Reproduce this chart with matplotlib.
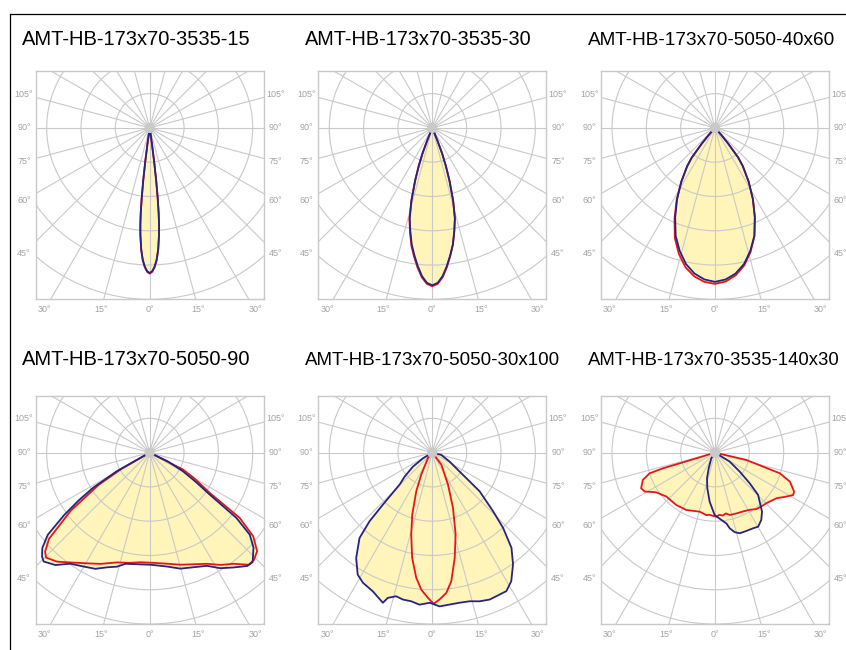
import numpy as np
import matplotlib
matplotlib.use("Agg")
import matplotlib.pyplot as plt
from matplotlib.lines import Line2D
from matplotlib.patches import Circle

plt.rcParams["font.family"] = ["Liberation Sans", "DejaVu Sans"]

TITLES = [
    "AMT-HB-173x70-3535-15",
    "AMT-HB-173x70-3535-30",
    "AMT-HB-173x70-5050-40x60",
    "AMT-HB-173x70-5050-90",
    "AMT-HB-173x70-5050-30x100",
    "AMT-HB-173x70-3535-140x30",
]
# rendered width of each title in the reference, pixels
TITLE_W = [230, 228, 248, 230, 255, 253]

# gamma angle from nadir in degrees (negative = left side), intensity in grid rings
P1_ANG = [-8.5, -8, -7.5, -7, -6.5, -6, -5.5, -5, -4, -3, -2, -1, 0,
          1, 2, 3, 4, 5, 5.5, 6, 6.5, 7, 7.5, 8, 8.5]
P1_BLUE = [0, 0.45, 1.0, 1.55, 2.05, 2.5, 2.85, 3.12, 3.55, 3.85, 4.05, 4.18, 4.23,
           4.18, 4.05, 3.85, 3.55, 3.12, 2.85, 2.5, 2.05, 1.55, 1.0, 0.45, 0]
P1_RED = [0, 0.45, 1.0, 1.55, 2.05, 2.5, 2.85, 3.12, 3.56, 3.87, 4.07, 4.2, 4.25,
          4.2, 4.07, 3.87, 3.56, 3.12, 2.85, 2.5, 2.05, 1.55, 1.0, 0.45, 0]

P2_ANG = [-23, -22, -21, -19.5, -18, -16, -14, -12, -10, -8, -6, -4, -2, 0,
          2, 4, 6, 8, 10, 12, 14, 16, 18, 19.5, 21, 22, 23]
P2_BLUE = [0, 0.4, 0.8, 1.2, 1.62, 2.2, 2.72, 3.08, 3.45, 3.75, 4.05, 4.33, 4.52, 4.59,
           4.52, 4.33, 4.05, 3.75, 3.45, 3.08, 2.72, 2.2, 1.62, 1.2, 0.8, 0.4, 0]
P2_RED = [0, 0.4, 0.8, 1.2, 1.63, 2.22, 2.75, 3.12, 3.5, 3.8, 4.1, 4.37, 4.55, 4.62,
          4.55, 4.36, 4.08, 3.77, 3.46, 3.08, 2.72, 2.2, 1.62, 1.2, 0.8, 0.4, 0]

P3_ANG = [-43, -42, -40, -38, -36, -32, -28, -24, -20, -16, -12, -8, -4, 0,
          4, 8, 12, 16, 20, 24, 28, 32, 36, 38, 40, 42, 43]
P3_BLUE = [0, 0.25, 0.6, 1.1, 1.38, 1.85, 2.35, 2.85, 3.35, 3.73, 4.06, 4.29, 4.43, 4.49,
           4.43, 4.29, 4.06, 3.73, 3.35, 2.85, 2.35, 1.85, 1.38, 1.1, 0.6, 0.25, 0]
P3_RED = [0, 0.25, 0.6, 1.1, 1.38, 1.86, 2.38, 2.9, 3.42, 3.82, 4.15, 4.37, 4.5, 4.55,
          4.49, 4.34, 4.1, 3.76, 3.36, 2.86, 2.35, 1.85, 1.38, 1.1, 0.6, 0.25, 0]

P4_BLUE_ANG = [-63, -60.5, -58.1, -56, -53.9, -51.1, -48.4, -46, -44.2, -40.0, -35.5,
               -30.1, -25.0, -20.4, -16.0, -12.3, -4.8, 0.4, 8.6, 14.8, 21.0, 26.8,
               31.4, 36.2, 40.7, 43.2, 47.5, 50.6, 53.0, 55.0, 57.5, 60.7, 64, 68]
P4_BLUE = [0, 1.1, 1.95, 2.5, 3.07, 3.81, 4.18, 4.36, 4.43, 4.28, 3.98,
           3.84, 3.74, 3.57, 3.46, 3.32, 3.27, 3.27, 3.36, 3.5, 3.58, 3.7,
           3.95, 4.15, 4.36, 4.38, 4.1, 3.77, 3.16, 2.13, 1.6, 1.11, 0.6, 0]
P4_RED_ANG = [-63, -60, -57.7, -53.6, -49.4, -46.5, -44.6, -40.3, -35.8, -29.5, -23.9,
              -16.5, -10.5, -4.9, 0.4, 8.9, 15.3, 21.5, 27.3, 32.2, 37.0, 41.4, 44.1,
              47.4, 51.0, 54.0, 56.1, 60, 63.0, 68]
P4_RED = [0, 0.95, 1.76, 2.86, 3.86, 4.2, 4.3, 4.17, 3.95, 3.71, 3.55,
          3.34, 3.27, 3.21, 3.21, 3.28, 3.39, 3.5, 3.65, 3.87, 4.06, 4.36, 4.36,
          4.25, 3.88, 3.24, 2.11, 1.5, 1.09, 0]

P5_BLUE_ANG = [-62, -58.5, -54, -49, -45.6, -43.5, -42.4, -40.4, -35.8, -31.4, -28.0,
               -23.2, -18.2, -17.0, -14.1, -11.3, -8.0, -4.8, -1.0, 2.7, 6.5, 10.3,
               14.1, 17.6, 21.3, 25.4, 28.1, 31.5, 35.8, 39.7, 43.2, 46.0, 50.7, 55.2,
               62.5, 75.7, 80]
P5_BLUE = [0, 0.32, 0.7, 1.07, 1.33, 2.09, 2.71, 3.27, 3.79, 4.17, 4.3,
           4.4, 4.61, 4.43, 4.32, 4.37, 4.38, 4.45, 4.38, 4.49, 4.46, 4.45,
           4.47, 4.55, 4.6, 4.58, 4.58, 4.4, 4.02, 3.61, 3.01, 2.46, 1.78, 0.97,
           0.57, 0.27, 0]
P5_RED_ANG = [-45, -39, -26.6, -22.5, -17.9, -14.4, -10.8, -7.3, -4.6, -1.7, 0.5,
              2.8, 5.7, 8.4, 12.0, 15.9, 20.5, 26.1, 36.9, 45]
P5_RED = [0, 0.2, 0.72, 1.22, 1.9, 2.47, 3.13, 3.68, 4.01, 4.24, 4.41,
          4.29, 4.11, 3.79, 3.14, 2.48, 1.72, 1.04, 0.44, 0]

P6_BLUE_ANG = [-40, -33, -21.9, -17.3, -12.2, -6.2, -0.3, 5.3, 9.1, 11.0, 13.9, 17.0,
               21.8, 26.7, 30.2, 34.5, 38.5, 45.5, 48.5, 52.4, 58.5, 70]
P6_BLUE = [0, 0.2, 0.49, 0.78, 1.06, 1.44, 1.82, 1.97, 2.09, 2.25, 2.39, 2.46,
           2.46, 2.47, 2.5, 2.38, 2.2, 1.76, 1.35, 0.91, 0.5, 0]
P6_RED_ANG = [-76, -73.0, -73.1, -73.2, -72.4, -69.2, -64.2, -61.0, -56.0, -47.9, -36.5,
              -26.6, -14.5, -8, -4.9, -1.5, 1.2, 4, 7.2, 10, 13.3, 19.3, 25.4, 31.2, 36.1,
              40.6, 45.3, 53.3, 58.3, 61.5, 63.7, 68.8, 72.3, 73.7, 76.8, 81]
P6_RED = [0, 0.57, 1.08, 1.58, 2.0, 2.25, 2.39, 2.34, 2.07, 1.91, 1.9,
          1.87, 1.78, 1.84, 1.82, 1.85, 1.87, 1.82, 1.85, 1.8, 1.87, 1.88, 1.9, 1.95, 2.04,
          2.07, 2.1, 2.23, 2.44, 2.59, 2.57, 2.34, 1.98, 1.46, 0.94, 0]

CURVES = [
    ((P1_ANG, P1_RED), (P1_ANG, P1_BLUE)),
    ((P2_ANG, P2_RED), (P2_ANG, P2_BLUE)),
    ((P3_ANG, P3_RED), (P3_ANG, P3_BLUE)),
    ((P4_RED_ANG, P4_RED), (P4_BLUE_ANG, P4_BLUE)),
    ((P5_RED_ANG, P5_RED), (P5_BLUE_ANG, P5_BLUE)),
    ((P6_RED_ANG, P6_RED), (P6_BLUE_ANG, P6_BLUE)),
]

SIDE_LABELS = [105, 90, 75, 60, 45]
BOTTOM_LABELS = [-30, -15, 0, 15, 30]

GRID = "#c9c9c9"
LABEL = "#a3a3a3"
FILL = "#fff5ba"
BLUE = "#25257f"
RED = "#e8141c"

W, H = 846, 650
BOX = 228
COL_X = [35.7, 318.3, 601.0]
ROW_Y = [71.0, 395.7]
TITLE_X = [22, 305, 588]
TITLE_Y = [45, 365]
XR = 3.32
YTOP = 1.66
YBOT = -4.99


def to_xy(ang, r):
    a = np.radians(ang)
    r = np.asarray(r)
    return r * np.sin(a), -r * np.cos(a)


def draw_panel(ax, curves):
    ax.set_xlim(-XR, XR)
    ax.set_ylim(YBOT, YTOP)
    ax.set_xticks([])
    ax.set_yticks([])
    for sp in ax.spines.values():
        sp.set_color(GRID)
        sp.set_linewidth(1.0)

    for ang, r in curves:
        x, y = to_xy(ang, r)
        ax.fill(x, y, color=FILL, lw=0, zorder=1)

    for rr in range(1, 8):
        ax.add_patch(Circle((0, 0), rr, fill=False, ec=GRID, lw=0.8, zorder=2))
    for a in range(0, 360, 15):
        t = np.radians(a)
        ax.plot([0, 10 * np.sin(t)], [0, -10 * np.cos(t)], color=GRID, lw=0.8, zorder=2)

    for (ang, r), col in zip(curves, [RED, BLUE]):
        x, y = to_xy(ang, r)
        ax.plot(x, y, color=col, lw=1.3, zorder=3, solid_joinstyle="round")

    ax.add_patch(Circle((0, 0), 0.15, color=GRID, lw=0, zorder=4))

    xl = XR + 0.34
    for a in SIDE_LABELS:
        t = np.radians(a)
        y = -xl * np.cos(t) / np.sin(t)
        for sgn in (-1, 1):
            ax.text(sgn * xl, y, f"{a}°", ha="center", va="center",
                    fontsize=6.5, color=LABEL, clip_on=False)
    yl = YBOT - 0.32
    for a in BOTTOM_LABELS:
        x = -yl * np.tan(np.radians(a))
        ax.text(x, yl, f"{abs(a)}°", ha="center", va="center",
                fontsize=6.5, color=LABEL, clip_on=False)


fig = plt.figure(figsize=(W / 100, H / 100), dpi=100)
renderer = fig.canvas.get_renderer()

for i, curves in enumerate(CURVES):
    row, col = divmod(i, 3)
    left = COL_X[col] / W
    bottom = 1 - (ROW_Y[row] + BOX) / H
    ax = fig.add_axes([left, bottom, BOX / W, BOX / H])
    draw_panel(ax, curves)
    t = fig.text(TITLE_X[col] / W, 1 - TITLE_Y[row] / H, TITLES[i],
                 fontsize=14, color="black", ha="left", va="baseline")
    w = t.get_window_extent(renderer).width
    t.set_fontsize(14 * TITLE_W[i] / w)

fig.add_artist(Line2D([9.5 / W, 9.5 / W], [0, 1 - 13.5 / H], color="black", lw=0.9))
fig.add_artist(Line2D([9.5 / W, 1], [1 - 13.5 / H, 1 - 13.5 / H], color="black", lw=0.9))

fig.savefig("out.png", dpi=100)
